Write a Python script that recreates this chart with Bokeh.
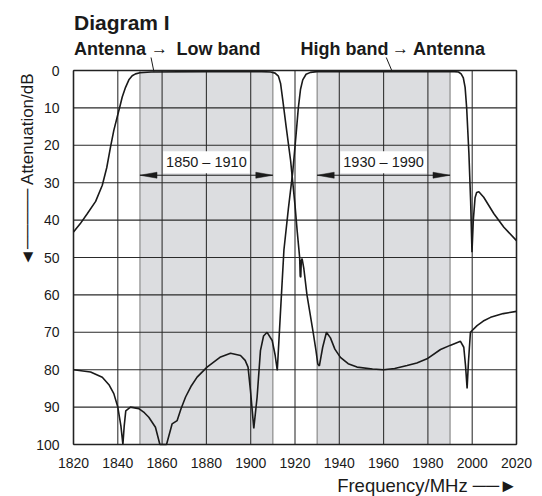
from bokeh.plotting import figure
from bokeh.models import Range1d, Label
from bokeh.core.properties import value
from bokeh.embed import file_html
from bokeh.resources import INLINE

# ---------------- data ----------------
lo_f = [1820, 1823, 1826.2, 1830, 1833, 1835, 1836.7, 1838.2, 1839.7, 1841, 1842, 1843.5, 1845,
        1846.5, 1848, 1850, 1855, 1880, 1905, 1909, 1911, 1912.5, 1913.5, 1914.5, 1916, 1918,
        1919, 1920, 1921, 1922.1, 1922.35, 1922.6, 1922.85, 1923.2, 1924, 1925.4, 1928.2, 1929.5,
        1930.3, 1931, 1932.5, 1934.2, 1936, 1938, 1940.5, 1944, 1948, 1955, 1960, 1965, 1970.6,
        1975, 1979.6, 1985.7, 1990, 1994.7, 1996.2, 1997.0, 1997.7, 1998.3, 1999.2, 2002.2, 2005,
        2008.3, 2014, 2020]
lo_db = [43.2, 41.0, 38.3, 35.0, 30.7, 26.0, 20.5, 16.0, 12.5, 9.5, 7.1, 4.5, 2.5,
         1.4, 0.9, 0.6, 0.4, 0.3, 0.3, 0.4, 0.7, 1.5, 3.5, 8.0, 15.0, 24.0,
         30.0, 36.0, 43.0, 50.0, 55.0, 55.3, 50.8, 50.3, 53.0, 60.0, 70.0, 75.0,
         78.5, 79.0, 74.0, 70.0, 71.5, 74.5, 76.7, 78.4, 79.3, 79.8, 80.0, 79.7, 78.9,
         78.2, 77.1, 74.6, 73.5, 72.4, 74.0, 79.0, 85.0, 78.0, 70.0, 68.2, 67.0,
         66.0, 65.0, 64.4]

hi_f = [1820, 1827.7, 1833, 1836, 1838.2, 1840, 1841.4, 1842.3, 1842.9, 1843.6, 1845.7, 1849.5,
        1852, 1854, 1857, 1859, 1862, 1864.5, 1866.8, 1868.5, 1870.6, 1873, 1875.8, 1880.3,
        1886.4, 1890.9, 1895.4, 1897.5, 1898.8, 1899.9, 1901.4, 1902.9, 1904.4, 1905.8, 1907.4,
        1909.7, 1911, 1912, 1913.5, 1915, 1917, 1919, 1920.5, 1921.5, 1922.5, 1923.5, 1925,
        1927, 1930, 1960, 1992, 1993.8, 1995, 1996, 1996.8, 1997.5, 1998.5, 1999.3, 1999.9,
        2000.5, 2001.3, 2002, 2003, 2005.2, 2009.8, 2014.3, 2020]
hi_db = [80.0, 80.6, 82.0, 84.0, 86.4, 90.0, 95.0, 100.0, 95.0, 91.0, 90.0, 90.4,
         91.5, 92.7, 95.4, 100.0, 100.0, 94.5, 93.6, 90.5, 87.3, 84.5, 82.0, 79.3,
         76.6, 75.6, 76.2, 77.5, 79.3, 85.6, 95.7, 87.3, 74.9, 71.0, 70.0,
         72.2, 76.0, 80.2, 64.0, 48.0, 37.0, 27.0, 17.0, 10.0, 5.0, 2.5, 1.0,
         0.5, 0.3, 0.3, 0.3, 0.4, 0.9, 2.0, 4.5, 10.0, 22.0, 35.0, 48.6,
         40.0, 34.0, 32.6, 32.4, 33.9, 38.3, 41.9, 45.5]

band_lo = [1850, 1930]
band_hi = [1910, 1990]
band_text = ["1850 \u2013 1910", "1930 \u2013 1990"]
x_ticks = [1820, 1840, 1860, 1880, 1900, 1920, 1940, 1960, 1980, 2000, 2020]
y_ticks = [0, 10, 20, 30, 40, 50, 60, 70, 80, 90, 100]

title_text = "Diagram I"
caption_words = ["Antenna", "Low band", "High band", "Antenna"]
caption_x = [1820.23, 1866.5, 1922.48, 1973.27]
caption_arrow_x = [1858.83, 1967.63]
leader_top_x = [1855.0, 1961.2]
leader_bottom_x = [1856.3, 1963.9]
x_label = "Frequency/MHz \u2500\u2500\u25ba"
y_label = "\u25c4\u2500\u2500\u2500\u2500\u2500 Attenuation/dB"

FONT = "Liberation Sans"
INK = "#1a1a1a"
PX_MHZ = 443 / 200.0   # pixels per MHz of the chart box
PX_DB = 374 / 100.0    # pixels per dB of the chart box
X0, Y0 = 73, 70        # page position of (1820 MHz, 0 dB)
BL, BR, BB = 71, 24, 50

# the frame reaches the top of the canvas so that the captions are drawn in data space
p = figure(width=542, height=496, output_backend="svg", toolbar_location=None, title=None,
           x_range=Range1d(x_ticks[0] - (X0 - BL) / PX_MHZ, x_ticks[0] + (542 - BR - X0) / PX_MHZ),
           y_range=Range1d(y_ticks[-1] + (496 - BB - Y0 - 374) / PX_DB, -Y0 / PX_DB),
           min_border_left=BL, min_border_right=BR, min_border_top=0, min_border_bottom=BB)
p.background_fill_color = "white"
p.border_fill_color = "white"
p.outline_line_color = None
p.xgrid.visible = False
p.ygrid.visible = False

# shaded pass bands
p.quad(left=band_lo, right=band_hi, bottom=y_ticks[-1], top=y_ticks[0], fill_color="#dcdde0", line_color=None)

# grid lines
p.segment(x0=band_lo + band_hi, y0=y_ticks[0], x1=band_lo + band_hi, y1=y_ticks[-1],
          line_color="#8a8a8a", line_width=1.2)
p.segment(x0=x_ticks, y0=y_ticks[0], x1=x_ticks, y1=y_ticks[-1], line_color="#333333", line_width=1.1)
p.segment(x0=x_ticks[0], y0=y_ticks, x1=x_ticks[-1], y1=y_ticks, line_color="#2a2a2a", line_width=1.1)

# chart box
p.segment(x0=[x_ticks[0], x_ticks[-1], x_ticks[0], x_ticks[0]],
          y0=[y_ticks[0], y_ticks[0], y_ticks[0], y_ticks[-1]],
          x1=[x_ticks[0], x_ticks[-1], x_ticks[-1], x_ticks[-1]],
          y1=[y_ticks[-1], y_ticks[-1], y_ticks[0], y_ticks[-1]],
          line_color="#222222", line_width=1.5)

# curves
p.line(lo_f, lo_db, line_color=INK, line_width=1.6)
p.line(hi_f, hi_db, line_color=INK, line_width=1.6)

# band width arrows
HL, HW, YA = 7.7, 0.8, 28.0
p.segment(x0=band_lo, y0=YA, x1=band_hi, y1=YA, line_color=INK, line_width=1)
xs, ys = [], []
for a, b in zip(band_lo, band_hi):
    xs += [[a, a + HL, a + HL], [b, b - HL, b - HL]]
    ys += [[YA, YA - HW, YA + HW], [YA, YA - HW, YA + HW]]
p.patches(xs, ys, fill_color=INK, line_color=INK, line_width=0.5)
for a, b, t in zip(band_lo, band_hi, band_text):
    p.add_layout(Label(x=(a + b) / 2, y=24.5, text=t, text_align="center", text_baseline="middle",
                       text_font=FONT, text_font_size="14.5px", text_color=INK,
                       background_fill_color="white", padding=3))

# captions above the chart box
p.text(x=[1820.23], y=[-12.8], text=[title_text], text_font=value(FONT), text_font_size="21px",
       text_font_style="bold", text_color=INK, text_baseline="middle")
p.text(x=caption_x, y=[-5.86] * 4, text=caption_words, text_font=value(FONT), text_font_size="18px",
       text_font_style="bold", text_color=INK, text_baseline="middle")
p.text(x=caption_arrow_x, y=[-6.0] * 2, text=["\u2192"] * 2, text_font=value(FONT),
       text_font_size="17px", text_color=INK, text_baseline="middle", text_align="center")
p.segment(x0=leader_top_x, y0=-3.48, x1=leader_bottom_x, y1=0.3, line_color=INK, line_width=1)

# axes
p.xaxis.ticker = x_ticks
p.yaxis.ticker = y_ticks
for ax in (p.xaxis[0], p.yaxis[0]):
    ax.axis_line_color = None
    ax.major_tick_line_color = None
    ax.minor_tick_line_color = None
    ax.major_label_text_font = FONT
    ax.major_label_text_font_size = "14px"
    ax.major_label_text_color = INK
p.xaxis.major_label_standoff = 5
p.yaxis.major_label_standoff = 6

# axis titles with their arrows (side panels)
p.add_layout(Label(x=1799.23, y=0.53, text=y_label, angle=1.5707963, text_align="right",
                   text_baseline="middle", text_font=FONT, text_font_size="17px",
                   text_color=INK), "left")
p.add_layout(Label(x=2020.4, y=110.9, text=x_label, text_align="right", text_baseline="middle",
                   text_font=FONT, text_font_size="18.5px", text_color=INK), "below")

open("out.html", "w").write(file_html(p, INLINE))
